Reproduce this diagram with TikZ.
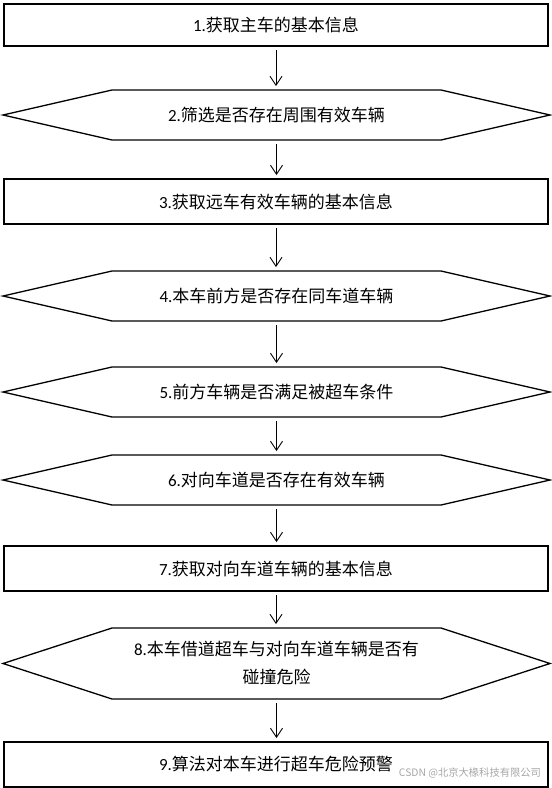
\documentclass[tikz,border=0pt]{standalone}
\usepackage{fontspec}
\setmainfont{Noto Sans CJK SC}
\newfontfamily\numfont{Carlito}
\usepackage{tikz}
\usetikzlibrary{arrows.meta, calc}
\newcommand{\steptext}{\fontsize{17}{28}\selectfont}
\tikzset{
  stepbox/.style={draw, line width=1.8pt, minimum width=544pt, inner sep=0pt, outer sep=0pt, font=\steptext}
}
\tikzset{
  hexbox/.style={minimum width=547pt, inner sep=0pt, outer sep=0pt, align=center, font=\steptext}
}
\tikzset{
  flowarrow/.style={-{Straight Barb[length=9pt,width=12pt]}, line width=0.9pt, shorten <=4pt, shorten >=4pt}
}

\begin{document}
\begin{tikzpicture}[x=1pt, y=-1pt]
      \useasboundingbox (0,0) rectangle (552,788);
      % rectangular steps
      \node[stepbox, minimum height=42pt] (b1) at (276,25) {{\numfont 1.}获取主车的基本信息};
      \node[stepbox, minimum height=45pt] (b3) at (276,201.5) {{\numfont 3.}获取远车有效车辆的基本信息};
      \node[stepbox, minimum height=45pt] (b7) at (276,568.5) {{\numfont 7.}获取对向车道车辆的基本信息};
      \node[stepbox, minimum height=45pt] (b9) at (276,764.5) {{\numfont 9.}算法对本车进行超车危险预警};
      % decision steps
      \node[hexbox, minimum height=50pt] (h2) at (276.5,115) {{\numfont 2.}筛选是否存在周围有效车辆};
      \node[hexbox, minimum height=50pt] (h4) at (276.5,296) {{\numfont 4.}本车前方是否存在同车道车辆};
      \node[hexbox, minimum height=50pt] (h5) at (276.5,392) {{\numfont 5.}前方车辆是否满足被超车条件};
      \node[hexbox, minimum height=50pt] (h6) at (276.5,480) {{\numfont 6.}对向车道是否存在有效车辆};
      \node[hexbox, minimum height=71pt] (h8) at (276.5,663.5) {{\numfont 8.}本车借道超车与对向车道车辆是否有\\碰撞危险};
      % hexagon outlines round the decision steps
      \foreach \n in {h2,h4,h5,h6,h8} {
        \draw[line width=1.3pt] (\n.west) -- ([xshift=109pt]\n.north west) -- ([xshift=-109pt]\n.north east)
          -- (\n.east) -- ([xshift=-109pt]\n.south east) -- ([xshift=109pt]\n.south west) -- cycle;
      }
      % arrows from each step to the next
      \foreach \a/\b in {b1/h2, h2/b3, b3/h4, h4/h5, h5/h6, h6/b7, b7/h8, h8/b9} {
        \draw[flowarrow] (\a.south) -- (\a.south |- \b.north);
      }
      \node[font=\fontsize{10.3}{12}\selectfont, text=gray!70] (mark) at (470,773) {CSDN @北京大椽科技有限公司};
\end{tikzpicture}
\end{document}
